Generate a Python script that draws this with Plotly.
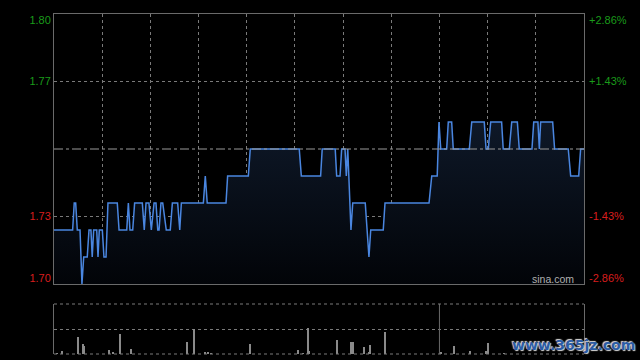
import plotly.graph_objects as go

# ---- data (minute index within the trading day, price) ----
minutes = [0, 11.6, 12.6, 13.5, 14.5, 16.2, 17.4, 18.5, 20.7, 21.8, 23.0, 23.8, 24.7, 26.6,
           27.4, 28.2, 30.1, 31.1, 32.4, 33.6, 39.4, 40.5, 45.3, 46.3, 47.3, 49.0, 50.2, 55.0,
           56.2, 57.3, 59.1, 60.6, 62.3, 63.5, 64.6, 65.4, 66.6, 67.7, 69.9, 72.4, 73.7, 77.0,
           78.3, 79.3, 93.0, 94.2, 95.4, 107.1, 108.1, 121.0, 122.2, 152.7, 154.0, 166.0, 167.0,
           175.1, 176.0, 178.1, 179.1, 181.2, 182.0, 182.9, 184.9, 186.0, 193.8, 196.1, 197.2,
           205.0, 206.1, 233.5, 235.2, 238.6, 239.7, 240.8, 244.5, 245.5, 247.6, 248.6, 258.6,
           260.1, 267.9, 269.0, 270.4, 271.9, 278.7, 279.7, 283.5, 285.0, 288.5, 289.7, 297.6,
           298.7, 301.3, 302.2, 303.0, 310.5, 311.7, 320.2, 321.7, 326.7, 327.9, 330]
prices = [1.72, 1.72, 1.73, 1.73, 1.72, 1.72, 1.70, 1.71, 1.71, 1.72, 1.72, 1.71, 1.72, 1.72,
          1.71, 1.72, 1.72, 1.71, 1.71, 1.73, 1.73, 1.72, 1.72, 1.73, 1.72, 1.72, 1.73, 1.73,
          1.72, 1.73, 1.73, 1.72, 1.73, 1.73, 1.72, 1.72, 1.73, 1.73, 1.72, 1.72, 1.73, 1.73,
          1.72, 1.73, 1.73, 1.74, 1.73, 1.73, 1.74, 1.74, 1.75, 1.75, 1.74, 1.74, 1.75,
          1.75, 1.74, 1.74, 1.75, 1.75, 1.74, 1.75, 1.72, 1.73, 1.73, 1.71, 1.72,
          1.72, 1.73, 1.73, 1.74, 1.74, 1.76, 1.75, 1.75, 1.76, 1.76, 1.75, 1.75,
          1.76, 1.76, 1.75, 1.75, 1.76, 1.76, 1.75, 1.75, 1.76, 1.76, 1.75, 1.75,
          1.76, 1.76, 1.75, 1.76, 1.76, 1.75, 1.75, 1.74, 1.74, 1.75, 1.75]

vol_minutes = [2, 5, 15, 18, 19, 34, 37, 41, 48, 83, 87, 94, 96, 98, 122, 152, 155, 158, 159,
               176, 185, 186, 193, 196, 197, 206, 241, 249, 259, 269, 270, 280]
vol_values = [4, 12, 68, 40, 32, 16, 8, 80, 20, 48, 100, 8, 8, 4, 40, 16, 4, 104, 12,
              56, 48, 48, 28, 8, 36, 88, 8, 32, 12, 12, 44, 4]

prev_close = 1.75
session_minutes = 330
lunch_minute = 240
time_grid = [30, 60, 90, 120, 150, 180, 210, 240, 270, 300]

GREEN = "#1a9a1a"
RED = "#d81e1e"
price_grid = [1.725, 1.775]
# edge labels sit slightly inside the frame, as in the original widget
price_label_pos = [1.7021, 1.725, 1.775, 1.7979]
price_labels = [f'<span style="color:{RED}">1.70</span>',
                f'<span style="color:{RED}">1.73</span>',
                f'<span style="color:{GREEN}">1.77</span>',
                f'<span style="color:{GREEN}">1.80</span>']
pct_label_pos = [-2.737, -1.4286, 1.4286, 2.737]
pct_labels = [f'<span style="color:{RED}">-2.86%</span>',
              f'<span style="color:{RED}">-1.43%</span>',
              f'<span style="color:{GREEN}">+1.43%</span>',
              f'<span style="color:{GREEN}">+2.86%</span>']
vol_ticks = [0, 100, 200]

pct_change = [(p - prev_close) / prev_close * 100 for p in prices]

GRID = "#7a7a7a"
BORDER = "#6a6a6a"
FONT = "Liberation Sans, Arial, sans-serif"

fig = go.Figure()

fig.add_trace(go.Scatter(
    x=minutes, y=prices, mode="lines",
    line=dict(color="#4a86e0", width=1.5),
    fill="tozeroy",
    fillgradient=dict(type="vertical", start=1.70, stop=1.76,
                      colorscale=[[0, "rgb(2,4,8)"], [1, "rgb(14,24,40)"]]),
    xaxis="x", yaxis="y", hoverinfo="skip", showlegend=False))

# percent-change twin (invisible) so the right-hand percentage axis is drawn
fig.add_trace(go.Scatter(
    x=minutes, y=pct_change, mode="lines", line=dict(width=0, color="rgba(0,0,0,0)"),
    xaxis="x", yaxis="y2", hoverinfo="skip", showlegend=False))

fig.add_trace(go.Bar(
    x=vol_minutes, y=vol_values, width=0.7,
    marker=dict(color="#8a8a8a", line=dict(width=0)),
    xaxis="x2", yaxis="y3", hoverinfo="skip", showlegend=False))

xdom = [54 / 640, 584 / 640]
fig.update_layout(
    width=640, height=360,
    margin=dict(l=0, r=0, t=0, b=0, pad=0),
    paper_bgcolor="#000000", plot_bgcolor="#000000",
    font=dict(family=FONT, size=11, color="#cccccc"),
    bargap=0,
    xaxis=dict(domain=xdom, range=[0, session_minutes], anchor="y", automargin=False,
               tickvals=time_grid, showticklabels=False, ticks="",
               showgrid=True, gridcolor=GRID, griddash="dot", gridwidth=1,
               zeroline=False, showline=True, linecolor=BORDER, linewidth=1, mirror=True),
    yaxis=dict(domain=[(360 - 284) / 360, (360 - 14) / 360], range=[1.70, 1.80],
               automargin=False,
               tickvals=price_label_pos, ticktext=price_labels, ticks="",
               tickfont=dict(family=FONT, size=11), ticklabelstandoff=0,
               showgrid=False,
               minor=dict(tickvals=price_grid, showgrid=True, gridcolor=GRID,
                          griddash="dot", gridwidth=1, ticks=""),
               zeroline=False, showline=True, linecolor=BORDER, linewidth=1, mirror=True),
    yaxis2=dict(overlaying="y", side="right", anchor="x", automargin=False,
                range=[-2.857, 2.857],
                tickvals=pct_label_pos, ticktext=pct_labels, ticks="",
                tickfont=dict(family=FONT, size=11), ticklabelstandoff=4,
                showgrid=False, zeroline=False, showline=False),
    xaxis2=dict(domain=xdom, range=[0, session_minutes], anchor="y3", automargin=False,
                showticklabels=False, ticks="", showgrid=False, zeroline=False,
                showline=False),
    yaxis3=dict(domain=[(360 - 354) / 360, (360 - 304) / 360], range=[0, 200],
                automargin=False,
                tickvals=vol_ticks, showticklabels=False, ticks="",
                showgrid=True, gridcolor=GRID, griddash="dot", gridwidth=1,
                zeroline=False, showline=True, linecolor=BORDER, linewidth=1, mirror=True),
    shapes=[
        dict(type="line", xref="x domain", yref="y", x0=0, x1=1, y0=prev_close, y1=prev_close,
             line=dict(color="#9a9a9a", width=1, dash="dashdot")),
        dict(type="line", xref="x2", yref="y3 domain", x0=lunch_minute, x1=lunch_minute, y0=0, y1=1,
             line=dict(color=BORDER, width=1)),
        dict(type="line", xref="x2 domain", yref="y3 domain", x0=0, x1=1, y0=1, y1=1,
             line=dict(color=GRID, width=1, dash="dot")),
        dict(type="line", xref="x2 domain", yref="y3 domain", x0=0, x1=1, y0=0, y1=0,
             line=dict(color=GRID, width=1, dash="dot")),
    ],
    annotations=[
        dict(text="sina.com", xref="x", yref="y", x=325, y=1.7019,
             xanchor="right", yanchor="middle", showarrow=False,
             font=dict(family=FONT, size=10.5, color="#b0b0b0")),
        dict(text="<b>www.365jz.com</b>", xref="paper", yref="paper", x=0.995, y=15 / 360,
             xanchor="right", yanchor="middle", showarrow=False,
             font=dict(family="DejaVu Sans", size=14, color="#2c5ca6",
                       shadow="1px 1px 1px #dddddd, -1px -1px 1px #dddddd")),
    ],
)

fig.write_html("out.html")
